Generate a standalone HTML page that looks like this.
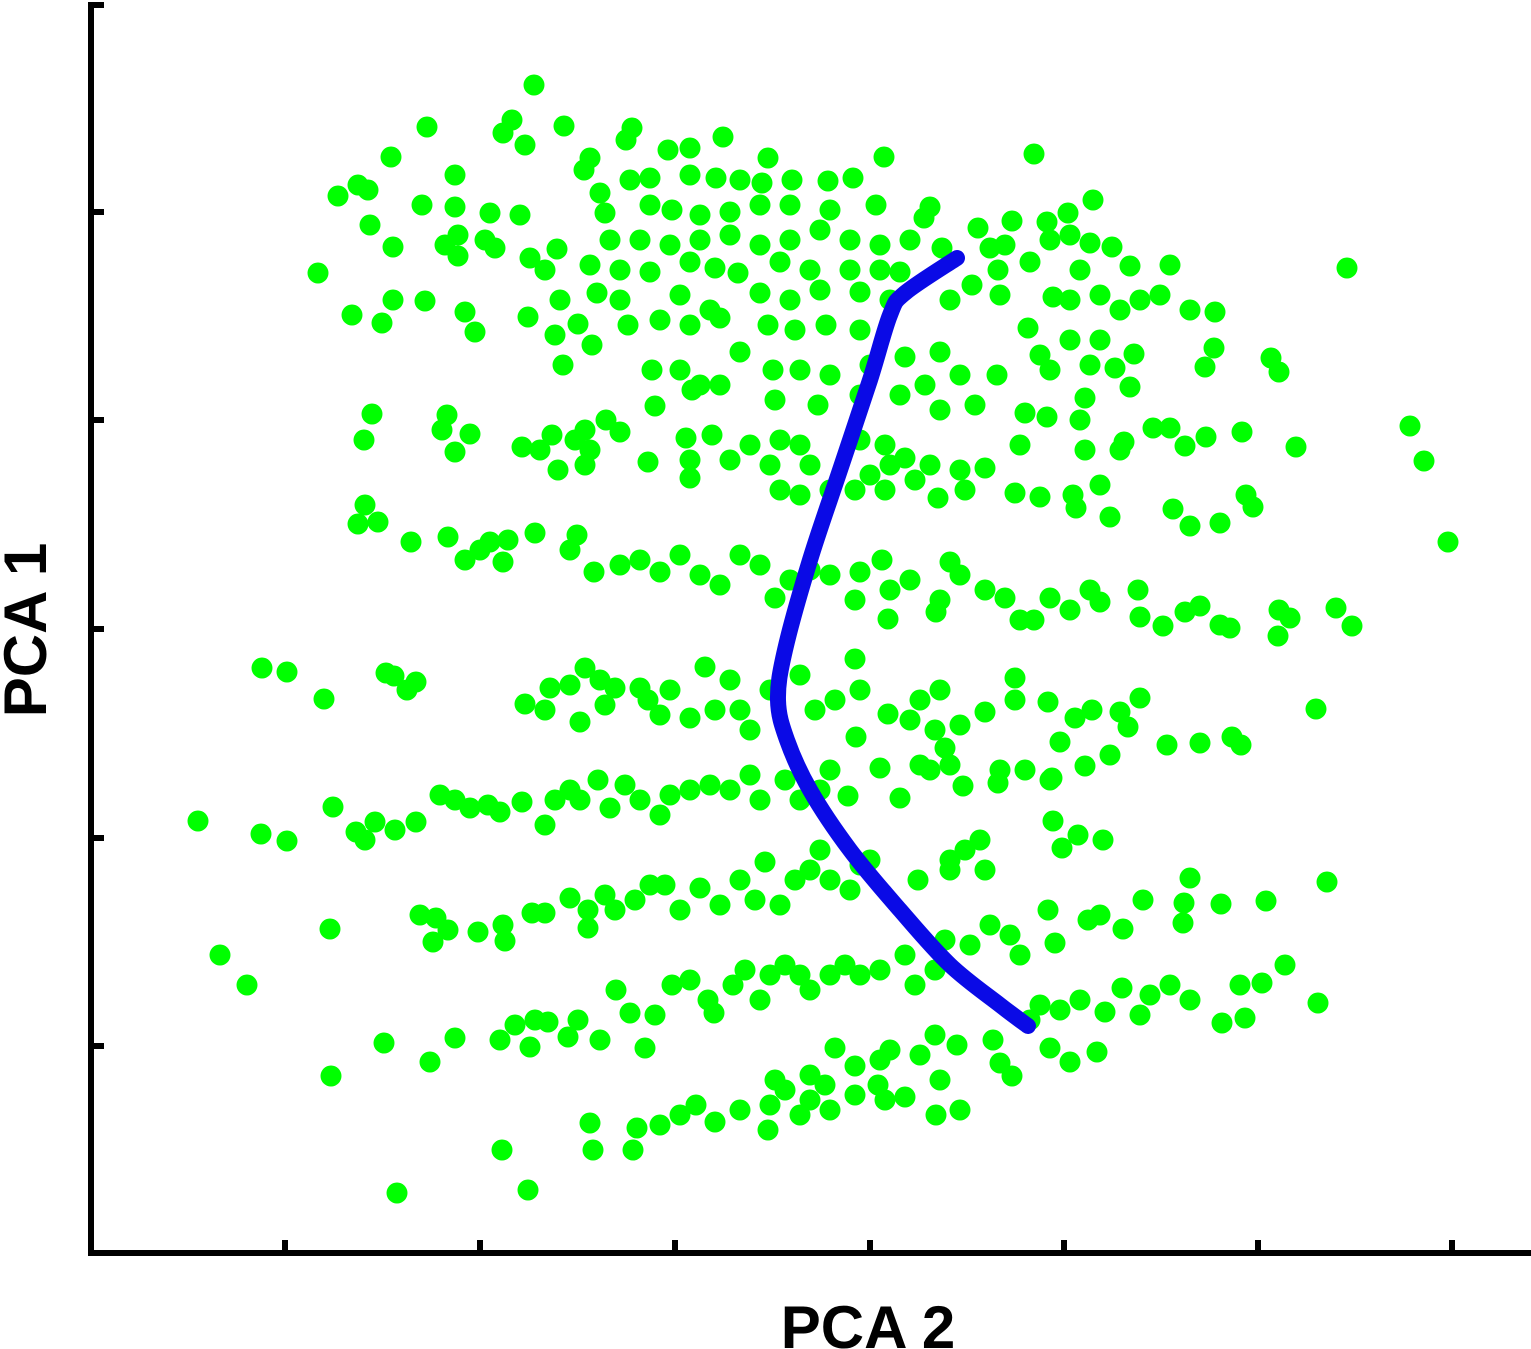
<!DOCTYPE html>
<html><head><meta charset="utf-8"><style>
html,body{margin:0;padding:0;background:#fff;}
svg{display:block;}
text{font-family:"Liberation Sans",Arial,sans-serif;font-weight:bold;}
</style></head><body>
<svg id="chart" width="1531" height="1349" viewBox="0 0 1531 1349" xmlns="http://www.w3.org/2000/svg">
<g id="points"></g>
<g id="curves"></g>
<g id="axes"></g>
<text x="868" y="1348" font-size="60" text-anchor="middle">PCA 2</text>
<text x="0" y="0" font-size="60" text-anchor="middle" transform="translate(46,630) rotate(-90)">PCA 1</text>
</svg>
<script>
const xTicks=[2.85,4.80,6.75,8.70,10.64,12.58,14.52];
const yTicks=[0.05,2.12,4.20,6.29,8.38,10.46];
const samples=[[5.34,0.85],[5.12,1.2],[5.03,1.33],[5.25,1.45],[5.64,1.26],[4.27,1.27],[6.32,1.28],[6.26,1.4],[7.23,1.37],[5.9,1.58],[3.91,1.57],[6.68,1.5],[6.9,1.48],[7.68,1.58],[8.84,1.57],[10.34,1.54],[3.58,1.85],[3.68,1.9],[3.38,1.96],[4.55,1.75],[5.84,1.7],[6,1.93],[6.3,1.8],[6.5,1.78],[6.9,1.75],[7.16,1.78],[7.4,1.8],[7.62,1.83],[7.92,1.8],[8.28,1.81],[8.53,1.78],[4.22,2.05],[4.55,2.07],[4.9,2.13],[5.2,2.15],[6.05,2.13],[6.5,2.05],[6.72,2.1],[7,2.15],[7.3,2.12],[7.6,2.05],[7.9,2.05],[8.3,2.1],[8.76,2.05],[9.3,2.07],[9.24,2.18],[10.12,2.21],[10.47,2.22],[10.68,2.13],[10.93,2],[3.7,2.25],[3.93,2.47],[4.45,2.45],[4.58,2.35],[4.58,2.56],[4.85,2.4],[4.95,2.48],[5.3,2.58],[5.45,2.7],[5.57,2.49],[6.1,2.4],[6.4,2.4],[6.7,2.45],[7,2.4],[7.3,2.35],[7.6,2.45],[7.9,2.4],[8.2,2.3],[8.5,2.4],[8.8,2.45],[9.1,2.4],[9.42,2.48],[9.78,2.28],[9.9,2.48],[10.05,2.45],[10.5,2.4],[10.7,2.35],[10.9,2.43],[11.12,2.47],[3.18,2.73],[5.9,2.65],[6.2,2.7],[6.5,2.72],[6.9,2.62],[7.15,2.68],[7.38,2.73],[7.8,2.62],[8.1,2.7],[8.5,2.7],[8.8,2.7],[9,2.72],[9.72,2.85],[9.98,2.7],[10.3,2.62],[10.8,2.7],[11.3,2.66],[11.7,2.65],[13.47,2.68],[3.52,3.15],[3.82,3.23],[3.93,3],[4.25,3.01],[4.65,3.12],[4.75,3.32],[5.28,3.17],[5.6,3],[5.97,2.93],[6.2,3],[6.8,2.95],[7.1,3.1],[7.6,2.93],[7.9,3],[8.2,2.9],[8.6,2.92],[8.9,3],[9.5,3],[10,2.95],[10.53,2.97],[10.7,3],[11,2.95],[11.2,3.1],[11.4,3],[11.6,2.95],[11.9,3.1],[12.15,3.12],[5.55,3.35],[5.78,3.24],[5.92,3.45],[6.28,3.25],[6.6,3.2],[6.9,3.25],[7.2,3.18],[7.68,3.25],[7.95,3.3],[8.26,3.25],[8.6,3.3],[10.28,3.28],[10.7,3.4],[11,3.4],[11.34,3.54],[12.14,3.48],[12.05,3.67],[12.71,3.58],[12.79,3.72],[5.63,3.65],[6.52,3.7],[6.8,3.7],[7,3.85],[7.4,3.52],[7.73,3.7],[8,3.7],[8.3,3.75],[8.7,3.65],[9.05,3.57],[9.4,3.52],[9.6,3.75],[9.97,3.75],[10.5,3.7],[10.4,3.55],[10.9,3.65],[11.15,3.68],[11.3,3.87],[6.55,4.06],[6.92,3.9],[7.2,3.85],[7.75,4],[8.18,4.05],[8.6,3.95],[9,3.95],[9.25,3.85],[9.4,4.1],[9.75,4.05],[10.25,4.13],[10.47,4.17],[10.8,4.2],[10.85,3.98],[14.1,4.26],[14.24,4.61],[3.72,4.14],[3.64,4.4],[4.47,4.15],[4.42,4.3],[4.55,4.52],[4.7,4.34],[5.22,4.47],[5.4,4.5],[5.52,4.35],[5.75,4.4],[5.85,4.3],[6.06,4.2],[6.2,4.32],[5.9,4.5],[5.58,4.7],[5.85,4.65],[6.48,4.62],[6.86,4.38],[7.12,4.35],[6.9,4.6],[6.9,4.78],[7.3,4.6],[7.5,4.45],[7.8,4.4],[8,4.45],[7.7,4.65],[8.1,4.65],[8.6,4.4],[8.85,4.45],[8.9,4.65],[8.7,4.75],[9.05,4.58],[9.3,4.65],[9.6,4.7],[9.85,4.68],[10.2,4.45],[10.85,4.5],[11.2,4.5],[11.53,4.28],[11.85,4.46],[12.06,4.37],[12.42,4.32],[12.96,4.47],[11.24,4.42],[11.7,4.28],[7.8,4.9],[8,4.95],[8.3,4.9],[8.55,4.9],[8.85,4.9],[9.15,4.8],[9.38,4.98],[9.65,4.9],[10.15,4.93],[10.4,4.97],[10.73,4.95],[11,4.85],[10.76,5.08],[11.1,5.17],[11.73,5.09],[11.9,5.26],[12.2,5.23],[12.46,4.95],[12.53,5.07],[14.48,5.42],[3.65,5.05],[3.58,5.24],[3.78,5.22],[4.11,5.42],[4.48,5.37],[4.65,5.6],[4.8,5.5],[4.9,5.42],[5.03,5.62],[5.08,5.4],[5.35,5.33],[5.7,5.5],[5.77,5.35],[5.94,5.72],[6.2,5.65],[6.4,5.6],[6.6,5.72],[6.8,5.55],[7,5.75],[7.2,5.85],[7.4,5.55],[7.6,5.65],[7.75,5.98],[7.9,5.8],[8.1,5.7],[8.3,5.75],[8.55,6],[8.6,5.72],[8.82,5.6],[8.9,5.9],[9.1,5.8],[9.4,6],[9.6,5.75],[9.85,5.9],[10.05,5.98],[10.2,6.2],[10.34,6.2],[10.5,5.98],[10.7,6.1],[10.9,5.9],[11,6.02],[11.38,5.9],[11.4,6.17],[11.63,6.26],[11.85,6.12],[12,6.06],[12.2,6.25],[12.3,6.28],[12.79,6.1],[12.78,6.36],[12.9,6.18],[13.36,6.08],[13.52,6.26],[8.88,6.19],[9.36,6.12],[9.5,5.62],[2.62,6.68],[2.87,6.72],[3.24,6.99],[3.86,6.73],[3.94,6.76],[4.07,6.9],[4.16,6.82],[5.25,7.04],[5.45,7.1],[5.5,6.88],[5.7,6.85],[5.85,6.68],[6,6.8],[5.8,7.22],[6.05,7.05],[6.15,6.88],[6.4,6.88],[6.48,7],[6.6,7.15],[6.7,6.9],[6.9,7.18],[7.05,6.67],[7.15,7.1],[7.3,6.8],[7.4,7.1],[7.5,7.3],[7.7,6.9],[8,6.75],[8.15,7.1],[8.35,7],[8.55,6.59],[8.56,7.37],[8.6,6.9],[8.88,7.14],[9.1,7.2],[9.2,7],[9.4,6.9],[9.35,7.3],[9.6,7.25],[9.85,7.12],[10.15,6.78],[10.15,7],[10.48,7.02],[10.75,7.18],[10.92,7.1],[11.2,7.12],[11.4,6.98],[11.28,7.27],[11.67,7.45],[12,7.43],[12.32,7.37],[12.41,7.45],[13.16,7.09],[9.45,7.48],[9.2,7.65],[9.5,7.65],[10,7.7],[10.25,7.7],[10.6,7.42],[10.5,7.8],[10.85,7.66],[11.1,7.55],[1.98,8.21],[2.61,8.34],[2.87,8.41],[3.33,8.07],[3.56,8.32],[3.65,8.4],[3.75,8.22],[3.95,8.3],[4.16,8.22],[4.4,7.95],[4.55,8],[4.7,8.08],[4.88,8.05],[5,8.12],[5.22,8.02],[5.45,8.25],[5.55,8],[5.7,7.9],[5.8,8],[5.98,7.8],[6.1,8.08],[6.25,7.85],[6.4,8],[6.6,8.15],[6.7,7.95],[6.9,7.9],[7.1,7.85],[7.3,7.9],[7.5,7.75],[7.6,8],[7.85,7.8],[8,8],[8.2,7.9],[8.3,7.7],[8.48,7.96],[8.8,7.68],[9,7.98],[9.3,7.7],[9.63,7.86],[9.98,7.83],[10.53,8.21],[10.78,8.35],[10.62,8.48],[11.03,8.4],[10.52,7.78],[11.9,8.78],[12.21,9.04],[12.66,9.01],[13.27,8.82],[3.3,9.29],[4.2,9.15],[4.36,9.18],[4.33,9.42],[4.48,9.3],[4.78,9.32],[5.03,9.25],[5.05,9.41],[5.32,9.13],[5.45,9.13],[5.7,8.98],[5.88,9.1],[5.88,9.28],[6.05,8.95],[6.15,9.1],[6.35,9],[6.5,8.85],[6.65,8.85],[6.8,9.1],[7,8.88],[7.2,9.05],[7.4,8.8],[7.55,9],[7.65,8.62],[7.8,9.05],[7.95,8.8],[8.1,8.7],[8.2,8.5],[8.3,8.8],[8.5,8.9],[8.6,8.65],[8.7,8.6],[9.18,8.8],[9.5,8.6],[9.65,8.5],[9.8,8.4],[9.85,8.7],[9.5,8.7],[2.2,9.55],[2.47,9.85],[6.16,9.9],[6.3,10.13],[6.55,10.15],[6.72,9.85],[6.9,9.8],[7.08,10],[7.14,10.13],[7.33,9.85],[7.45,9.7],[7.6,10],[7.7,9.75],[7.85,9.65],[8,9.75],[8.1,9.9],[8.3,9.75],[8.45,9.65],[8.6,9.75],[8.8,9.7],[9.05,9.55],[9.35,9.7],[9.15,9.85],[9.45,9.4],[9.7,9.45],[9.9,9.25],[10.1,9.35],[10.2,9.55],[10.48,9.1],[10.55,9.43],[10.88,9.2],[11,9.15],[11.23,9.29],[11.43,9],[11.84,9.03],[11.83,9.23],[10.4,10.05],[10.6,10.1],[10.8,10],[11.05,10.12],[11.22,9.88],[11.4,10.15],[11.5,9.95],[11.7,9.85],[11.9,10],[12.22,10.23],[12.4,9.85],[12.45,10.18],[12.62,9.83],[12.85,9.65],[13.18,10.03],[3.31,10.76],[3.84,10.43],[4.3,10.62],[4.55,10.38],[5,10.4],[5.15,10.25],[5.3,10.47],[5.35,10.2],[5.48,10.22],[5.68,10.37],[5.78,10.2],[6,10.4],[6.45,10.48],[8.35,10.48],[8.55,10.66],[8.8,10.6],[8.9,10.5],[9.2,10.55],[9.4,10.8],[9.57,10.45],[9.93,10.4],[10,10.63],[10.12,10.76],[10.3,10.2],[10.5,10.48],[10.7,10.62],[10.97,10.52],[3.97,11.93],[5.02,11.5],[5.28,11.9],[5.9,11.23],[5.93,11.5],[6.33,11.5],[6.37,11.28],[6.6,11.25],[6.8,11.15],[6.96,11.05],[7.15,11.22],[7.4,11.1],[7.68,11.3],[7.7,11.05],[7.85,10.9],[8,11.15],[8.1,11],[8.25,10.85],[8.3,11.1],[8.55,10.95],[8.78,10.85],[8.85,11],[9.05,10.97],[9.36,11.15],[9.6,11.1],[7.75,10.8],[8.1,10.75],[9.35,10.35]];
const curvePCA2=[9.57,9.05,8.9,8.7,8.4,8.1,7.85,7.78,7.87,8.1,8.5,9.0,9.5,10.0,10.28];
const curvePCA1=[2.58,2.93,3.15,3.8,4.7,5.6,6.5,7.0,7.4,7.9,8.5,9.1,9.65,10.05,10.26];

const X0=91,X1=1531,Y0=5,Y1=1253;
const xDom=[0.91,15.31], yDom=[0.05,12.53];
function sx(v){return X0+(v-xDom[0])/(xDom[1]-xDom[0])*(X1-X0);}
function sy(v){return Y0+(v-yDom[0])/(yDom[1]-yDom[0])*(Y1-Y0);}
const NS="http://www.w3.org/2000/svg";
const pg=document.getElementById('points');
samples.forEach(function(p){
  const c=document.createElementNS(NS,'circle');
  c.setAttribute('cx',sx(p[0]));c.setAttribute('cy',sy(p[1]));c.setAttribute('r',10.5);
  c.setAttribute('fill','#00ff00');
  
  
  pg.appendChild(c);
});
const cg=document.getElementById('curves');
const pts=curvePCA2.map(function(v,i){return [sx(v),sy(curvePCA1[i])];});
let d='M'+pts[0][0]+' '+pts[0][1];
for(let i=0;i<pts.length-1;i++){
  const p0=pts[Math.max(i-1,0)],p1=pts[i],p2=pts[i+1],p3=pts[Math.min(i+2,pts.length-1)];
  const c1x=p1[0]+(p2[0]-p0[0])/6,c1y=p1[1]+(p2[1]-p0[1])/6;
  const c2x=p2[0]-(p3[0]-p1[0])/6,c2y=p2[1]-(p3[1]-p1[1])/6;
  d+=' C'+c1x+' '+c1y+' '+c2x+' '+c2y+' '+p2[0]+' '+p2[1];
}
const path=document.createElementNS(NS,'path');
path.setAttribute('d',d);path.setAttribute('fill','none');path.setAttribute('stroke','#0a0ae6');
path.setAttribute('stroke-width',16);path.setAttribute('stroke-linecap','round');path.setAttribute('stroke-linejoin','round');


cg.appendChild(path);
const ag=document.getElementById('axes');
function line(x1,y1,x2,y2,name){
  const l=document.createElementNS(NS,'line');
  l.setAttribute('x1',x1);l.setAttribute('y1',y1);l.setAttribute('x2',x2);l.setAttribute('y2',y2);
  l.setAttribute('stroke','#000');l.setAttribute('stroke-width',6);l.setAttribute('stroke-linecap','square');
  
  
  ag.appendChild(l);
}
line(X0,Y0,X0,Y1,'y-axis-line');
line(X0,Y1,X1,Y1,'x-axis-line');
xTicks.forEach(function(t){line(sx(t),Y1,sx(t),Y1-10,'x-tick');});
yTicks.forEach(function(t){line(X0,sy(t),X0+10,sy(t),'y-tick');});
</script>
</body></html>
